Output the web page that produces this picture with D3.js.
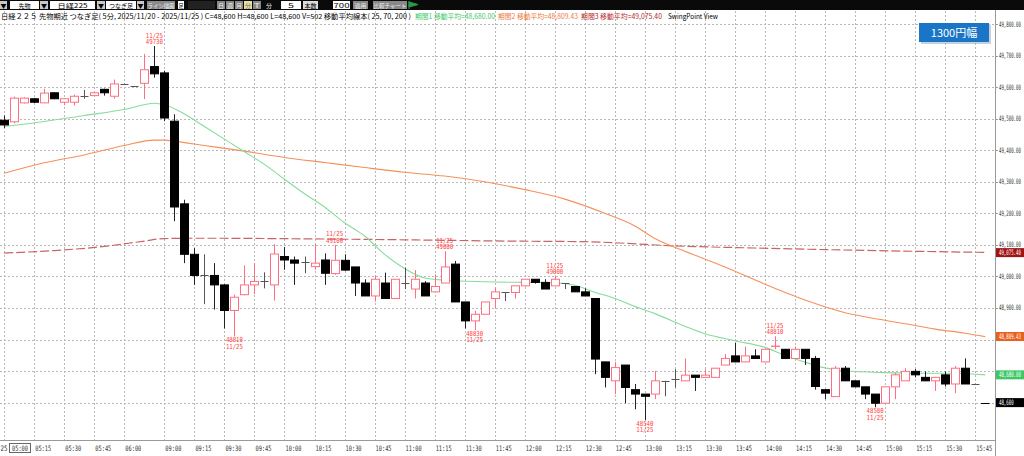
<!DOCTYPE html>
<html><head><meta charset="utf-8">
<script src="https://cdn.jsdelivr.net/npm/d3@7"></script>
<style>
body{margin:0;background:#fff;overflow:hidden}
svg{display:block}
</style></head><body><svg id="c" width="1024" height="456"></svg>
<script>
// ---------------- DATA ----------------
const times = [
 "05:00","05:05","05:10","05:15","05:20","05:25","05:30","05:35","05:40","05:45","05:50","05:55","06:00",
 "08:45","08:50","08:55",
 "09:00","09:05","09:10","09:15","09:20","09:25","09:30","09:35","09:40","09:45","09:50","09:55",
 "10:00","10:05","10:10","10:15","10:20","10:25","10:30","10:35","10:40","10:45","10:50","10:55",
 "11:00","11:05","11:10","11:15","11:20","11:25","11:30","11:35","11:40","11:45","11:50","11:55",
 "12:00","12:05","12:10","12:15","12:20","12:25","12:30","12:35","12:40","12:45","12:50","12:55",
 "13:00","13:05","13:10","13:15","13:20","13:25","13:30","13:35","13:40","13:45","13:50","13:55",
 "14:00","14:05","14:10","14:15","14:20","14:25","14:30","14:35","14:40","14:45","14:50","14:55",
 "15:00","15:05","15:10","15:15","15:20","15:25","15:30","15:35","15:40","15:45","15:45引け"
];
const open = [
 49495,49490,49550,49563,49550,49582,49552,49552,49573,49573,49593,49571,49610,
 49602,49612,49665,
 49645,49492,49230,49070,49003,49003,48973,48892,48942,48973,48984,48973,
 49063,49052,49045,49031,49052,49009,49051,49030,48979,48938,48979,48930,
 48979,48960,48979,48951,48979,49039,48919,48859,48880,48930,48949,48949,
 48970,48991,48981,48970,48979,48968,48951,48930,48729,48669,48719,48641,
 48627,48627,48669,48674,48669,48687,48680,48680,48719,48748,48729,48748,
 48729,48778,48769,48740,48769,48740,48641,48619,48709,48669,48650,48627,
 48598,48650,48669,48699,48680,48669,48688,48659,48709,48659,48600
];
const high = [
 49510,49570,49568,49565,49595,49583,49565,49576,49591,49584,49595,49624,49611,
 49603,49705,49730,
 49652,49514,49243,49090,49070,49042,48975,48942,49035,49042,49013,49102,
 49093,49063,49063,49102,49073,49100,49070,49030,48991,49002,49012,48991,
 49028,49020,48985,49007,49080,49049,48919,48891,48919,48965,48949,48970,
 48991,48991,48991,49000,48979,48968,48962,48930,48729,48729,48719,48659,
 48627,48701,48669,48706,48740,48687,48706,48709,48754,48790,48778,48769,
 48769,48810,48769,48778,48769,48748,48641,48716,48716,48669,48650,48627,
 48650,48695,48709,48706,48699,48680,48699,48716,48740,48660,48600
];
const low = [
 49470,49485,49548,49550,49550,49562,49542,49542,49563,49571,49573,49563,49609,
 49601,49562,49630,
 49492,49175,49042,48973,48912,48895,48835,48810,48940,48944,48962,48923,
 49021,48973,49010,49021,48973,49005,49018,48938,48938,48920,48930,48930,
 48960,48930,48938,48951,48979,48919,48835,48830,48880,48901,48922,48930,
 48968,48977,48960,48970,48960,48951,48938,48690,48648,48627,48598,48579,
 48545,48611,48620,48648,48669,48637,48680,48680,48719,48729,48729,48740,
 48729,48769,48738,48740,48719,48641,48611,48619,48669,48650,48611,48585,
 48598,48611,48669,48680,48669,48637,48651,48630,48659,48658,48600
];
const close = [
 49480,49565,49565,49552,49581,49563,49563,49571,49573,49582,49582,49610,49610,
 49602,49655,49642,
 49502,49220,49070,49003,49003,48973,48892,48934,48973,48984,48984,49071,
 49052,49042,49045,49042,49010,49051,49020,48979,48938,48991,48930,48991,
 48979,48991,48938,48968,49030,48919,48859,48880,48919,48951,48949,48970,
 48991,48981,48960,48991,48979,48951,48938,48738,48680,48711,48648,48627,
 48620,48669,48669,48674,48687,48680,48687,48709,48740,48729,48748,48740,
 48769,48779,48740,48769,48740,48651,48630,48709,48669,48650,48627,48598,
 48650,48688,48699,48688,48669,48680,48659,48709,48659,48659,48600
];
// moving averages (bar index -> value)
const ma25Idx = [0,4,8,12,15,16,18,20,22,24,26,28,30,32,34,36,38,40,42,44,48,52,55,57,59,61,63,65,68,70,73,76,78,80,82,84,88,92,95,98];
const ma25Val = [49475,49491,49510,49529,49549,49544,49515,49475,49435,49395,49355,49308,49262,49220,49170,49128,49070,49025,48995,48988,48983,48981,48980,48972,48950,48930,48905,48882,48842,48818,48796,48775,48750,48728,48710,48701,48695,48693,48693,48688];
const ma70Idx = [0,4,8,12,15,16,18,20,24,28,32,36,40,44,48,52,56,60,63,65,68,72,76,80,84,86,90,93,96,98];
const ma70Val = [49327,49360,49385,49415,49432,49432,49424,49415,49397,49377,49361,49345,49330,49318,49300,49275,49245,49200,49160,49120,49080,49030,48975,48925,48885,48872,48850,48833,48820,48809];
const ma200Idx = [0,5,10,14,16,20,30,40,50,58,62,66,75,85,98];
const ma200Val = [49074,49082,49095,49112,49120,49121,49119,49116,49112,49110,49105,49098,49090,49083,49076];

const priceTicks = [49800,49700,49600,49500,49400,49300,49200,49100,49000,48900,48800,48700,48600];
const timeTicks = ["05:00","05:15","05:30","05:45","06:00","09:00","09:15","09:30","09:45","10:00","10:15","10:30","10:45",
 "11:00","11:15","11:30","11:45","12:00","12:15","12:30","12:45","13:00","13:15","13:30","13:45","14:00","14:15","14:30","14:45",
 "15:00","15:15","15:30","15:45"];

const swingIdx  = [15,23,33,44,47,55,64,77,87];
const swingType = ["H","L","H","H","L","H","L","H","L"];
const swingVal  = ["49730","48810","49100","49080","48830","49000","48540","48810","48580"];
const swingDate = "11/25";

const markerVals   = [49075.40, 48809.43, 48688, 48600];
const markerLabels = ["49,075.40","48,809.43","48,680.00","48,600"];
const markerColors = ["#a01414","#e8601c","#3cc864","#000000"];

const headerParts = [
 ["日経２２５ 先物期近 つなぎ足( 5分, 2025/11/20 - 2025/11/25 )  C=48,600 H=48,600 L=48,600 V=502   移動平均線本( 25, 70, 200 )", "#000", 1, 410],
 ["期間1 移動平均=48,680.00", "#3cc864", 415, 80],
 ["期間2 移動平均=48,809.43", "#f0783c", 498, 80],
 ["期間3 移動平均=49,075.40", "#b42828", 581, 81],
 ["SwingPoint View", "#000", 668, 50]
];

// ---------------- DRAW ----------------
const svg = d3.select("#c");
const x = d3.scalePoint().domain(times).range([4.2, 985.2]);
const y = d3.scaleLinear().domain([48600, 49800]).range([402.6, 24]);
const PLOT_R = 995, PLOT_B = 440;
const monoFont = "'DejaVu Sans Mono', monospace";
const jpFont = "'Noto Sans CJK JP', sans-serif";
const SQUEEZE = 0.54;   // narrow axis digits

svg.append("rect").attr("width",1024).attr("height",456).attr("fill","#fff");

svg.append("defs").append("clipPath").attr("id","plot")
  .append("rect").attr("x",0).attr("y",11).attr("width",PLOT_R).attr("height",PLOT_B-11);

// grid
const grid = svg.append("g");
grid.selectAll("line.h").data(priceTicks).join("line")
  .attr("x1",0).attr("x2",PLOT_R).attr("y1",d=>Math.round(y(d))+0.5).attr("y2",d=>Math.round(y(d))+0.5)
  .attr("stroke","#b8b8b8").attr("stroke-dasharray","2,2");
grid.selectAll("line.v").data(timeTicks).join("line")
  .attr("x1",d=>Math.round(x(d))+0.5).attr("x2",d=>Math.round(x(d))+0.5).attr("y1",11).attr("y2",PLOT_B)
  .attr("stroke","#b8b8b8").attr("stroke-dasharray","2,2");

// axes lines
svg.append("line").attr("x1",PLOT_R+0.5).attr("x2",PLOT_R+0.5).attr("y1",10).attr("y2",456).attr("stroke","#999");
svg.append("line").attr("x1",0).attr("x2",PLOT_R).attr("y1",PLOT_B+0.5).attr("y2",PLOT_B+0.5).attr("stroke","#999");

// y labels (those hidden under a price marker are not drawn, as in the reference)
const hidden = v => markerVals.some(m => Math.abs(y(m)-y(v)) < 4);
svg.append("g").selectAll("text").data(priceTicks.filter(v=>!hidden(v))).join("text")
  .attr("transform",d=>`translate(999,${y(d)+2.5}) scale(${SQUEEZE},1)`)
  .attr("font-family",monoFont).attr("font-size",7.5).attr("fill","#333")
  .text(d=>d3.format(",.2f")(d));
svg.append("g").selectAll("line").data(priceTicks).join("line")
  .attr("x1",PLOT_R).attr("x2",PLOT_R+3).attr("y1",d=>Math.round(y(d))+0.5).attr("y2",d=>Math.round(y(d))+0.5).attr("stroke","#999");

// x labels
svg.append("g").selectAll("text").data(timeTicks.slice(1)).join("text")
  .attr("x",d=>x(d)+1).attr("y",451)
  .attr("font-family",monoFont).attr("font-size",7.5).attr("fill","#333")
  .attr("textLength",16).attr("lengthAdjust","spacingAndGlyphs")
  .text(d=>d);
svg.append("text").attr("x",0.5).attr("y",451).attr("font-family",monoFont).attr("font-size",7.5).attr("fill","#333")
  .attr("textLength",7).attr("lengthAdjust","spacingAndGlyphs").text("25");
svg.append("rect").attr("x",9.5).attr("y",443.5).attr("width",21).attr("height",9).attr("fill","none").attr("stroke","#666");
svg.append("text").attr("x",12).attr("y",451).attr("font-family",monoFont).attr("font-size",7.5).attr("fill","#333")
  .attr("textLength",16).attr("lengthAdjust","spacingAndGlyphs").text(times[0]);

const plot = svg.append("g").attr("clip-path","url(#plot)");

// moving averages
const lineGen = d3.line().x(d=>x(times[d[0]])).y(d=>y(d[1])).curve(d3.curveMonotoneX);
plot.append("path").datum(ma200Idx.map((d,i)=>[d,ma200Val[i]])).attr("d",lineGen)
  .attr("fill","none").attr("stroke","#c86464").attr("stroke-width",1.2).attr("stroke-dasharray","9,3");
plot.append("path").datum(ma70Idx.map((d,i)=>[d,ma70Val[i]])).attr("d",lineGen)
  .attr("fill","none").attr("stroke","#f4915a").attr("stroke-width",1.1);
plot.append("path").datum(ma25Idx.map((d,i)=>[d,ma25Val[i]])).attr("d",lineGen)
  .attr("fill","none").attr("stroke","#86dc9c").attr("stroke-width",1.1);

// candles
const UP = "#ff6f80", DOWN = "#000", FLAT = "#555";
const bars = times.map((t,i)=>({t,i,o:open[i],h:high[i],l:low[i],c:close[i]}));
const wickCol = d => d.c>d.o ? UP : (d.c<d.o ? "#222" : FLAT);
const cg = plot.append("g");
cg.selectAll("line.w").data(bars).join("line")
  .attr("x1",d=>Math.round(x(d.t))+0.5).attr("x2",d=>Math.round(x(d.t))+0.5)
  .attr("y1",d=>y(d.h)).attr("y2",d=>y(d.l)).attr("stroke",wickCol).attr("stroke-width",1);
cg.selectAll("rect.b").data(bars.filter(d=>d.c!==d.o)).join("rect")
  .attr("x",d=>Math.round(x(d.t))-3.5)
  .attr("width",8)
  .attr("y",d=>y(Math.max(d.o,d.c)))
  .attr("height",d=>Math.max(0.01, y(Math.min(d.o,d.c))-y(Math.max(d.o,d.c))))
  .attr("fill",d=>d.c>d.o?"#fff":DOWN)
  .attr("stroke",d=>d.c>d.o?UP:DOWN).attr("stroke-width",1);
// flat bodies as dashes
cg.selectAll("line.f").data(bars.filter(d=>d.c===d.o)).join("line")
  .attr("x1",d=>Math.round(x(d.t))-3.5).attr("x2",d=>Math.round(x(d.t))+4.5)
  .attr("y1",d=>Math.round(y(d.c))+0.5).attr("y2",d=>Math.round(y(d.c))+0.5)
  .attr("stroke",(d)=>d.i===times.length-1?"#000":FLAT);

// swing annotations
const sg = plot.append("g");
swingIdx.forEach((bi,k)=>{
  const xc = x(times[bi]);
  const lines = swingType[k]==="H" ? [swingDate, swingVal[k]] : [swingVal[k], swingDate];
  const base = swingType[k]==="H" ? y(high[bi]) - 8.5 : y(low[bi]) + 6;
  lines.forEach((s,j)=>{
    sg.append("text").attr("x",xc).attr("y",base + j*6.2).attr("text-anchor","middle")
      .attr("font-family",monoFont).attr("font-size",7).attr("fill","#ff4040")
      .attr("textLength",17).attr("lengthAdjust","spacingAndGlyphs").text(s);
  });
});

// last price dash
svg.append("line").attr("x1",981).attr("x2",988).attr("y1",Math.round(y(markerVals[3]))+0.5).attr("y2",Math.round(y(markerVals[3]))+0.5).attr("stroke","#000");

// price markers
const mg = svg.append("g");
markerVals.forEach((v,k)=>{
  const yc = y(v);
  mg.append("rect").attr("x",996).attr("y",yc-4.5).attr("width",28).attr("height",9).attr("fill",markerColors[k]);
  mg.append("text").attr("transform",`translate(999,${yc+2.5}) scale(${SQUEEZE},1)`)
    .attr("font-family",monoFont).attr("font-size",7.5)
    .attr("fill","#fff").text(markerLabels[k]);
});

// blue button
svg.append("rect").attr("x",921).attr("y",25).attr("width",70).attr("height",19).attr("fill","#9fb3c8").attr("opacity",0.6);
svg.append("rect").attr("x",919).attr("y",23).attr("width",70).attr("height",19).attr("fill","#1b75c6");
svg.append("text").attr("x",954).attr("y",37).attr("text-anchor","middle").attr("font-family",jpFont)
  .attr("font-size",11).attr("fill","#fff").text("1300円幅");

// header text
const hg = svg.append("g");
headerParts.forEach(p=>{
  hg.append("text").attr("x",p[2]).attr("y",18.5).attr("font-family",jpFont).attr("font-size",7)
    .attr("fill",p[1]).attr("textLength",p[3]).attr("lengthAdjust","spacingAndGlyphs").text(p[0]);
});

// toolbar
const tb = svg.append("g");
tb.append("rect").attr("width",1024).attr("height",10).attr("fill","#0a0a0a");
const tbItems = [
 [0,7,"#c8c8c8","▼","#000"],[10,29,"#fff","先物","#000"],[40,8,"#c8c8c8","▼","#000"],
 [50,45,"#fff","日経225","#000"],[97,8,"#c8c8c8","▼","#000"],[106,30,"#fff","つなぎ足","#000"],
 [137,7,"#c8c8c8","▼","#000"],[147,28,"#8a8a8a","ライン描画","#eee"],[178,6,"#fff","足","#000"],
 [188,27,"#222","","#fff"],[217,8,"#888","日","#eee"],[226,8,"#888","週","#eee"],[235,8,"#888","月","#eee"],
 [244,8,"#e8e0a0","分","#666"],[253,8,"#888","T","#eee"],[281,20,"#fff","5","#000"],
 [303,15,"#ddd","本数","#000"],[333,17,"#fff","700","#000"],[353,15,"#888","適用","#eee"],[373,34,"#888","比較チャート","#eee"]
];
tbItems.forEach(it=>{
  tb.append("rect").attr("x",it[0]).attr("y",1).attr("width",it[1]).attr("height",8).attr("fill",it[2]);
  if(it[3]) tb.append("text").attr("x",it[0]+it[1]/2).attr("y",8).attr("text-anchor","middle")
    .attr("font-family",jpFont).attr("font-size",6).attr("fill",it[4])
    .attr("textLength",Math.min(it[1]-1, it[3].length*6)).attr("lengthAdjust","spacingAndGlyphs").text(it[3]);
});
tb.append("text").attr("x",266).attr("y",8).attr("font-family",jpFont).attr("font-size",6).attr("fill","#eee").text("分");
tb.append("path").attr("d","M409,1 L409,9 M409,2 L418,4.5 L409,7 Z").attr("fill","#2a9a4a").attr("stroke","#2a9a4a");
</script></body></html>
